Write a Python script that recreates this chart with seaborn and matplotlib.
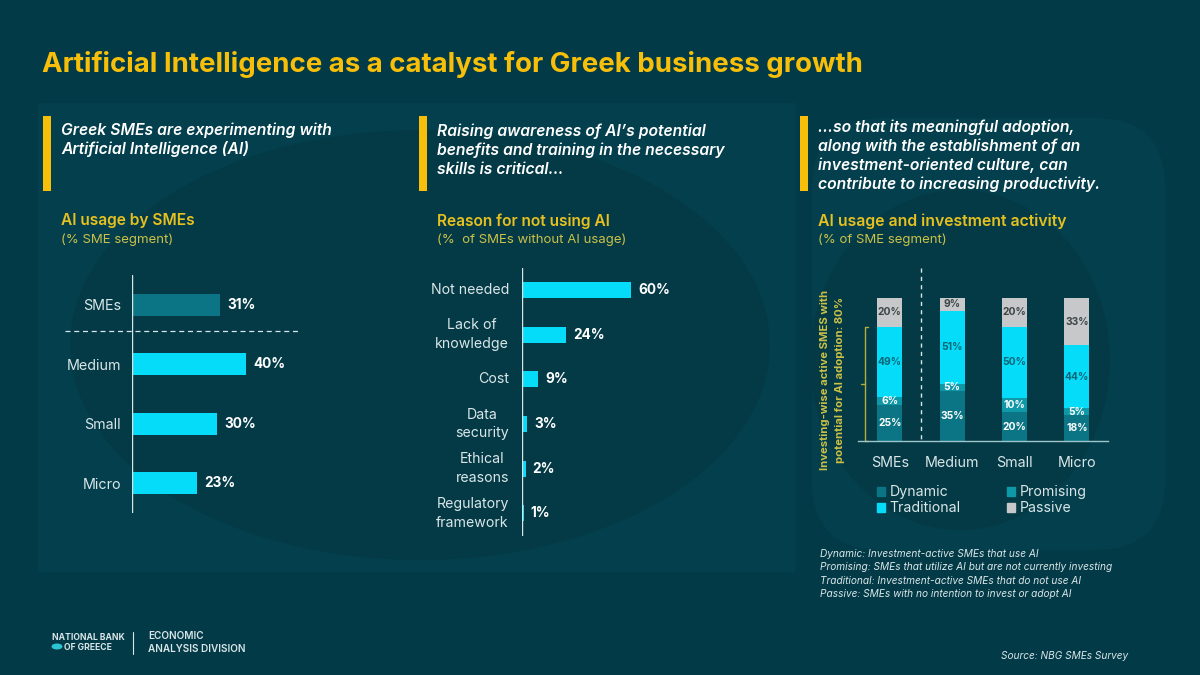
import matplotlib
matplotlib.use("Agg")
import matplotlib.pyplot as plt
from matplotlib.patches import Ellipse, Rectangle, FancyBboxPatch, Patch
import numpy as np
import pandas as pd
import seaborn as sns

title = "Artificial Intelligence as a catalyst for Greek business growth"

usage_cats = ["SMEs", "Medium", "Small", "Micro"]
usage_vals = [31, 40, 30, 23]

reason_cats = ["Not needed", "Lack of\nknowledge", "Cost", "Data\nsecurity", "Ethical\nreasons", "Regulatory\nframework"]
reason_vals = [60, 24, 9, 3, 2, 1]

segments = ["SMEs", "Medium", "Small", "Micro"]
dynamic = [25, 35, 20, 18]
promising = [6, 5, 10, 5]
traditional = [49, 51, 50, 44]
passive = [20, 9, 20, 33]

BG = "#033a47"
PANEL = "#033f4c"
SHAPE = "#033a46"
CYAN = "#05dcf9"
DARK_TEAL = "#0b7585"
MID_TEAL = "#0f98a8"
GREY = "#c6c8c9"
YELLOW = "#f7bf0a"
HEAD = "#e5c020"
OLIVE = "#cbc148"
LABEL = "#d9e6e8"
WHITE = "#ffffff"

sns.set_theme(style="white")
plt.rcParams["font.family"] = ["Inter", "DejaVu Sans"]

fig = plt.figure(figsize=(12, 6.75), dpi=100, facecolor=BG)

# background layer in pixel coords, used for all the slide furniture
bg = fig.add_axes([0, 0, 1, 1], zorder=0)
bg.set_xlim(0, 1200)
bg.set_ylim(675, 0)
bg.axis("off")
bg.add_patch(Rectangle((38, 103), 757, 469, color=PANEL, lw=0))
bg.add_patch(Ellipse((420, 345), 700, 430, color=SHAPE, lw=0))
bg.add_patch(FancyBboxPatch((812, 118), 353, 432, boxstyle="round,pad=0,rounding_size=70",
                            fc=PANEL, ec="none", lw=0))
bg.add_patch(Ellipse((960, 360), 300, 340, color=SHAPE, lw=0))


def put(x, y, s, size=10, color=WHITE, weight="normal", style="normal", ha="left", **kw):
    return bg.text(x, y, s, fontsize=size, color=color, fontweight=weight, fontstyle=style,
                   ha=ha, va="center", **kw)


def pixel_axes(left, top, right, bottom):
    ax = fig.add_axes([left / 1200, 1 - bottom / 675, (right - left) / 1200, (bottom - top) / 675], zorder=2)
    ax.set_facecolor("none")
    sns.despine(ax=ax, left=True, bottom=True, right=True, top=True)
    return ax


put(42, 64, title, size=19.9, color=YELLOW, weight="bold")

for x in [43, 419, 800]:
    bg.add_patch(Rectangle((x, 116), 8, 75, color=YELLOW, lw=0))

put(61, 130, "Greek SMEs are experimenting with", size=11.3, style="italic", weight="semibold")
put(61, 149, "Artificial Intelligence (AI)", size=11.3, style="italic", weight="semibold")
put(437, 131, "Raising awareness of AI’s potential", size=11.3, style="italic", weight="semibold")
put(437, 150, "benefits and training in the necessary", size=11.3, style="italic", weight="semibold")
put(437, 169, "skills is critical...", size=11.3, style="italic", weight="semibold")
put(818, 127, "...so that its meaningful adoption,", size=11.3, style="italic", weight="semibold")
put(818, 146, "along with the establishment of an", size=11.3, style="italic", weight="semibold")
put(818, 165, "investment-oriented culture, can", size=11.3, style="italic", weight="semibold")
put(818, 184, "contribute to increasing productivity.", size=11.3, style="italic", weight="semibold")

put(61, 221, "AI usage by SMEs", size=11.2, color=HEAD, weight="semibold")
put(61, 240, "(% SME segment)", size=9.5, color=OLIVE)
put(437, 221, "Reason for not using AI", size=11.2, color=HEAD, weight="semibold")
put(437, 240, "(%  of SMEs without AI usage)", size=9.5, color=OLIVE)
put(818, 221, "AI usage and investment activity", size=11.4, color=HEAD, weight="semibold")
put(818, 240, "(% of SME segment)", size=9.5, color=OLIVE)

# left chart
ax1 = pixel_axes(132, 275, 300, 513)
usage_df = pd.DataFrame({"cat": usage_cats, "val": usage_vals})
sns.barplot(data=usage_df, y="cat", x="val", hue="cat", legend=False, ax=ax1, width=0.37, linewidth=0,
            palette={"SMEs": DARK_TEAL, "Medium": CYAN, "Small": CYAN, "Micro": CYAN}, saturation=1)
ax1.set_xlim(0, 168 / 2.84)
ax1.set_ylim(3.5, -0.5)
ax1.set(xlabel="", ylabel="")
ax1.set_xticks([])
ax1.tick_params(axis="y", length=0, pad=8, labelsize=10.3, labelcolor=LABEL)
ax1.axvline(0, color=LABEL, lw=1)
for i, v in enumerate(usage_vals):
    ax1.text(v + 2.6, i, f"{v}%", color=WHITE, fontsize=9.8, fontweight="bold", va="center")
bg.plot([65, 298], [331, 331], color=LABEL, lw=0.9, ls=(0, (4, 3)))

# middle chart
ax2 = pixel_axes(522, 268, 720, 536)
reason_df = pd.DataFrame({"cat": reason_cats, "val": reason_vals})
sns.barplot(data=reason_df, y="cat", x="val", color=CYAN, ax=ax2, width=0.36, saturation=1, linewidth=0)
ax2.set_xlim(0, 198 / 1.82)
ax2.set_ylim(5.51, -0.49)
ax2.set(xlabel="", ylabel="")
ax2.set_xticks([])
ax2.set_yticks([])
ax2.axvline(0, color=LABEL, lw=1)
# two-line labels need more leading than tick labels give, so they are plain texts
for i, (cat, v) in enumerate(zip(reason_cats, reason_vals)):
    ax2.text(-13 / 1.82, i, cat, ha="right", va="center", multialignment="center", linespacing=1.42,
             color=LABEL, fontsize=10.2, clip_on=False)
    ax2.text(v + 3.9, i, f"{v}%", color=WHITE, fontsize=9.8, fontweight="bold", va="center")

# right chart
ax3 = pixel_axes(858, 298, 1108, 441)
stack_df = pd.DataFrame({"seg": segments, "Dynamic": dynamic, "Promising": promising,
                         "Traditional": traditional, "Passive": passive})
stack_cols = {"Dynamic": DARK_TEAL, "Promising": MID_TEAL, "Traditional": CYAN, "Passive": GREY}
text_cols = {"Dynamic": WHITE, "Promising": WHITE, "Traditional": "#0b6677", "Passive": "#3d4548"}
bottom = np.zeros(len(segments))
for name, col in stack_cols.items():
    vals = stack_df[name].to_numpy()
    sns.barplot(data=stack_df, x="seg", y=name, color=col, ax=ax3, width=0.4, saturation=1, bottom=bottom, linewidth=0)
    for i, v in enumerate(vals):
        ax3.text(i, bottom[i] + v / 2, f"{v}%", ha="center", va="center", color=text_cols[name],
                 fontsize=7.4, fontweight="bold")
    bottom = bottom + vals
ax3.set_xlim(-0.51, 3.5)
ax3.set_ylim(0, 100)
ax3.set(xlabel="", ylabel="")
ax3.set_yticks([])
ax3.tick_params(axis="x", length=0, pad=11, labelsize=10.3, labelcolor=LABEL)
ax3.spines["bottom"].set_visible(True)
ax3.spines["bottom"].set_color("#9fc4c9")
ax3.spines["bottom"].set_linewidth(1)

handles = [Patch(color=stack_cols[k], label=k) for k in ["Dynamic", "Traditional", "Promising", "Passive"]]
leg = ax3.legend(handles=handles, ncol=2, frameon=False, loc="upper left", bbox_to_anchor=(0.076, -0.31),
                 labelcolor=LABEL, fontsize=10.2, handlelength=0.55, handleheight=0.6, handletextpad=0.35,
                 columnspacing=3.25, labelspacing=0.15, borderpad=0, borderaxespad=0)

# bracket and divider
bg.plot([868, 865, 865, 868], [327, 327, 441, 441], color="#b5ae3a", lw=1, zorder=3)
bg.plot([861, 865], [384, 384], color="#b5ae3a", lw=1, zorder=3)
bg.plot([921, 921], [268, 441], color=LABEL, lw=1, ls=(0, (3, 3)))
put(825, 380, "Investing-wise active SMES with", size=8.1, color=OLIVE, weight="bold", ha="center", rotation=90)
put(840, 380, "potential for AI adoption: 80%", size=8.1, color=OLIVE, weight="bold", ha="center", rotation=90)

notes = ["Dynamic: Investment-active SMEs that use AI",
         "Promising: SMEs that utilize AI but are not currently investing",
         "Traditional: Investment-active SMEs that do not use AI",
         "Passive: SMEs with no intention to invest or adopt AI"]
for n, y in zip(notes, [554, 567, 581, 594]):
    put(820, y, n, size=7.27, color=LABEL, style="italic")

put(1128, 656, "Source: NBG SMEs Survey", size=7.25, color=LABEL, style="italic", ha="right")

# logo block
put(52, 637, "NATIONAL BANK", size=6.2, color=LABEL, weight="bold")
put(64, 647, "OF GREECE", size=6.2, color=LABEL, weight="bold")
bg.add_patch(Ellipse((57, 646.5), 11, 6, color="#2cc3d2", lw=0))
bg.plot([133, 133], [632, 654], color=LABEL, lw=0.8)
put(148, 636, "ECONOMIC", size=7.2, color=LABEL, weight="semibold")
put(148, 649, "ANALYSIS DIVISION", size=7.2, color=LABEL, weight="semibold")

fig.savefig("out.png", dpi=100, facecolor=BG)
plt.close(fig)
